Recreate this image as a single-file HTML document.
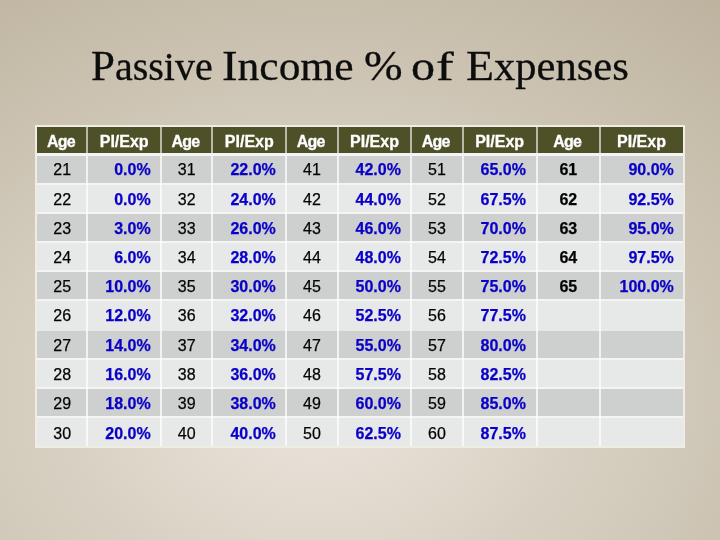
<!DOCTYPE html>
<html><head><meta charset="utf-8"><title>Passive Income % of Expenses</title>
<style>
*{margin:0;padding:0;box-sizing:border-box}
html,body{width:720px;height:540px;overflow:hidden}
body{position:relative;background:radial-gradient(ellipse 654px 510px at 317px 396px, rgb(237,229,226) 0%, rgb(232,225,217) 7.8%, rgb(228,221,211) 15.7%, rgb(226,219,208) 19.6%, rgb(223,216,204) 25.5%, rgb(220,213,200) 31.4%, rgb(216,209,195) 39.2%, rgb(212,204,189) 49%, rgb(207,199,183) 58.8%, rgb(203,194,177) 68.6%, rgb(198,189,171) 78.4%, rgb(194,184,165) 88.2%, rgb(188,178,158) 100%);font-family:"Liberation Sans",Arial,sans-serif}
h1{position:absolute;left:0;top:0;width:720px;height:120px;font-family:"Liberation Serif","Times New Roman",serif;font-weight:normal;font-size:40px;line-height:60px;color:#0d0d0d;white-space:nowrap;-webkit-text-stroke:.3px #0d0d0d}
h1 span{position:absolute;top:0;transform-origin:0 0}
h1 b{font-weight:normal;font-size:43px}
#t{position:absolute;left:35px;top:125px;width:650px;height:323px;background:#f3f4f3}
#bd{position:absolute;left:0;top:0;width:650px;height:323px;border:2px solid #eeece3}
.r{position:absolute;left:2px;width:646px}
.h{background:#4e5028;color:#fff;font-weight:bold}
.o{background:#cdd0cf}
.e{background:#e7e8e8}
.c{position:absolute;top:0;height:100%;display:flex;align-items:center;white-space:nowrap}
.h .c{font-size:16px;padding-top:4px}
.o .c,.e .c{font-size:16px;padding-top:1px}
.cc{justify-content:center}
.cr{justify-content:flex-end}
.b{color:#0a00c8;font-weight:bold;-webkit-text-stroke:.25px #0a00c8}
.k{font-weight:bold}
.cc{-webkit-text-stroke:.25px #111}
.h .cc{-webkit-text-stroke:.3px #fff}
.v{position:absolute;top:2px;width:2px;height:26px;background:rgba(255,255,255,.6)}
.w{position:absolute;top:31px;width:2px;height:290px;background:rgba(255,255,255,.7)}
</style></head>
<body>
<h1><span style="left:90.80px;top:36px;transform:scaleX(1.0008)"><b>P</b>assive</span><span style="left:221.73px;top:36px;transform:scaleX(1.0873)"><b>I</b>ncome</span><span style="left:363.94px;top:36px;transform:scaleX(1.0781)"><b>%</b></span><span style="left:410.80px;top:37px;transform:scaleX(1.2000)">o</span><span style="left:435.57px;top:37px;transform:scaleX(1.3250)">f</span><span style="left:465.94px;top:36px;transform:scaleX(1.0640)"><b>E</b>xpenses</span></h1>
<div id="t">
<div class="r h" style="top:2px;height:26px"><div class="c cc" style="left:0.0px;width:50.4px;letter-spacing:-.8px;padding-right:2.5px">Age</div><div class="c cc" style="left:50.4px;width:73.6px">PI/Exp</div><div class="c cc" style="left:124.0px;width:51.4px;letter-spacing:-.8px;padding-right:2.5px">Age</div><div class="c cc" style="left:175.4px;width:73.8px">PI/Exp</div><div class="c cc" style="left:249.2px;width:51.4px;letter-spacing:-.8px;padding-right:2.5px">Age</div><div class="c cc" style="left:300.6px;width:73.8px">PI/Exp</div><div class="c cc" style="left:374.4px;width:51.2px;letter-spacing:-.8px;padding-right:2.5px">Age</div><div class="c cc" style="left:425.6px;width:74.1px">PI/Exp</div><div class="c cc" style="left:499.7px;width:63.3px;letter-spacing:-.8px;padding-right:2.5px">Age</div><div class="c cc" style="left:563.0px;width:83.0px">PI/Exp</div></div>
<div class="r o" style="top:31px;height:27px"><div class="c cc" style="left:0.0px;width:50.4px;padding-top:1px">21</div><div class="c cr b" style="left:50.4px;width:73.6px;padding-right:10.3px;padding-top:1px">0.0%</div><div class="c cc" style="left:124.0px;width:51.4px;padding-top:1px">31</div><div class="c cr b" style="left:175.4px;width:73.8px;padding-right:10.4px;padding-top:1px">22.0%</div><div class="c cc" style="left:249.2px;width:51.4px;padding-top:1px">41</div><div class="c cr b" style="left:300.6px;width:73.8px;padding-right:10.5px;padding-top:1px">42.0%</div><div class="c cc" style="left:374.4px;width:51.2px;padding-top:1px">51</div><div class="c cr b" style="left:425.6px;width:74.1px;padding-right:10.8px;padding-top:1px">65.0%</div><div class="c cc k" style="left:499.7px;width:63.3px;padding-top:1px">61</div><div class="c cr b" style="left:563.0px;width:83.0px;padding-right:9.2px;padding-top:1px">90.0%</div></div>
<div class="r e" style="top:60px;height:27px"><div class="c cc" style="left:0.0px;width:50.4px;padding-top:3px">22</div><div class="c cr b" style="left:50.4px;width:73.6px;padding-right:10.3px;padding-top:3px">0.0%</div><div class="c cc" style="left:124.0px;width:51.4px;padding-top:3px">32</div><div class="c cr b" style="left:175.4px;width:73.8px;padding-right:10.4px;padding-top:3px">24.0%</div><div class="c cc" style="left:249.2px;width:51.4px;padding-top:3px">42</div><div class="c cr b" style="left:300.6px;width:73.8px;padding-right:10.5px;padding-top:3px">44.0%</div><div class="c cc" style="left:374.4px;width:51.2px;padding-top:3px">52</div><div class="c cr b" style="left:425.6px;width:74.1px;padding-right:10.8px;padding-top:3px">67.5%</div><div class="c cc k" style="left:499.7px;width:63.3px;padding-top:3px">62</div><div class="c cr b" style="left:563.0px;width:83.0px;padding-right:9.2px;padding-top:3px">92.5%</div></div>
<div class="r o" style="top:89px;height:27px"><div class="c cc" style="left:0.0px;width:50.4px;padding-top:3px">23</div><div class="c cr b" style="left:50.4px;width:73.6px;padding-right:10.3px;padding-top:3px">3.0%</div><div class="c cc" style="left:124.0px;width:51.4px;padding-top:3px">33</div><div class="c cr b" style="left:175.4px;width:73.8px;padding-right:10.4px;padding-top:3px">26.0%</div><div class="c cc" style="left:249.2px;width:51.4px;padding-top:3px">43</div><div class="c cr b" style="left:300.6px;width:73.8px;padding-right:10.5px;padding-top:3px">46.0%</div><div class="c cc" style="left:374.4px;width:51.2px;padding-top:3px">53</div><div class="c cr b" style="left:425.6px;width:74.1px;padding-right:10.8px;padding-top:3px">70.0%</div><div class="c cc k" style="left:499.7px;width:63.3px;padding-top:3px">63</div><div class="c cr b" style="left:563.0px;width:83.0px;padding-right:9.2px;padding-top:3px">95.0%</div></div>
<div class="r e" style="top:118px;height:27px"><div class="c cc" style="left:0.0px;width:50.4px;padding-top:3px">24</div><div class="c cr b" style="left:50.4px;width:73.6px;padding-right:10.3px;padding-top:3px">6.0%</div><div class="c cc" style="left:124.0px;width:51.4px;padding-top:3px">34</div><div class="c cr b" style="left:175.4px;width:73.8px;padding-right:10.4px;padding-top:3px">28.0%</div><div class="c cc" style="left:249.2px;width:51.4px;padding-top:3px">44</div><div class="c cr b" style="left:300.6px;width:73.8px;padding-right:10.5px;padding-top:3px">48.0%</div><div class="c cc" style="left:374.4px;width:51.2px;padding-top:3px">54</div><div class="c cr b" style="left:425.6px;width:74.1px;padding-right:10.8px;padding-top:3px">72.5%</div><div class="c cc k" style="left:499.7px;width:63.3px;padding-top:3px">64</div><div class="c cr b" style="left:563.0px;width:83.0px;padding-right:9.2px;padding-top:3px">97.5%</div></div>
<div class="r o" style="top:147px;height:27px"><div class="c cc" style="left:0.0px;width:50.4px;padding-top:3px">25</div><div class="c cr b" style="left:50.4px;width:73.6px;padding-right:10.3px;padding-top:3px">10.0%</div><div class="c cc" style="left:124.0px;width:51.4px;padding-top:3px">35</div><div class="c cr b" style="left:175.4px;width:73.8px;padding-right:10.4px;padding-top:3px">30.0%</div><div class="c cc" style="left:249.2px;width:51.4px;padding-top:3px">45</div><div class="c cr b" style="left:300.6px;width:73.8px;padding-right:10.5px;padding-top:3px">50.0%</div><div class="c cc" style="left:374.4px;width:51.2px;padding-top:3px">55</div><div class="c cr b" style="left:425.6px;width:74.1px;padding-right:10.8px;padding-top:3px">75.0%</div><div class="c cc k" style="left:499.7px;width:63.3px;padding-top:3px">65</div><div class="c cr b" style="left:563.0px;width:83.0px;padding-right:9.2px;padding-top:3px">100.0%</div></div>
<div class="r e" style="top:176px;height:30px"><div class="c cc" style="left:0.0px;width:50.4px;padding-top:0px">26</div><div class="c cr b" style="left:50.4px;width:73.6px;padding-right:10.3px;padding-top:0px">12.0%</div><div class="c cc" style="left:124.0px;width:51.4px;padding-top:0px">36</div><div class="c cr b" style="left:175.4px;width:73.8px;padding-right:10.4px;padding-top:0px">32.0%</div><div class="c cc" style="left:249.2px;width:51.4px;padding-top:0px">46</div><div class="c cr b" style="left:300.6px;width:73.8px;padding-right:10.5px;padding-top:0px">52.5%</div><div class="c cc" style="left:374.4px;width:51.2px;padding-top:0px">56</div><div class="c cr b" style="left:425.6px;width:74.1px;padding-right:10.8px;padding-top:0px">77.5%</div></div>
<div class="r o" style="top:206px;height:27px"><div class="c cc" style="left:0.0px;width:50.4px;padding-top:3px">27</div><div class="c cr b" style="left:50.4px;width:73.6px;padding-right:10.3px;padding-top:3px">14.0%</div><div class="c cc" style="left:124.0px;width:51.4px;padding-top:3px">37</div><div class="c cr b" style="left:175.4px;width:73.8px;padding-right:10.4px;padding-top:3px">34.0%</div><div class="c cc" style="left:249.2px;width:51.4px;padding-top:3px">47</div><div class="c cr b" style="left:300.6px;width:73.8px;padding-right:10.5px;padding-top:3px">55.0%</div><div class="c cc" style="left:374.4px;width:51.2px;padding-top:3px">57</div><div class="c cr b" style="left:425.6px;width:74.1px;padding-right:10.8px;padding-top:3px">80.0%</div></div>
<div class="r e" style="top:235px;height:27px"><div class="c cc" style="left:0.0px;width:50.4px;padding-top:3px">28</div><div class="c cr b" style="left:50.4px;width:73.6px;padding-right:10.3px;padding-top:3px">16.0%</div><div class="c cc" style="left:124.0px;width:51.4px;padding-top:3px">38</div><div class="c cr b" style="left:175.4px;width:73.8px;padding-right:10.4px;padding-top:3px">36.0%</div><div class="c cc" style="left:249.2px;width:51.4px;padding-top:3px">48</div><div class="c cr b" style="left:300.6px;width:73.8px;padding-right:10.5px;padding-top:3px">57.5%</div><div class="c cc" style="left:374.4px;width:51.2px;padding-top:3px">58</div><div class="c cr b" style="left:425.6px;width:74.1px;padding-right:10.8px;padding-top:3px">82.5%</div></div>
<div class="r o" style="top:264px;height:27px"><div class="c cc" style="left:0.0px;width:50.4px;padding-top:3px">29</div><div class="c cr b" style="left:50.4px;width:73.6px;padding-right:10.3px;padding-top:3px">18.0%</div><div class="c cc" style="left:124.0px;width:51.4px;padding-top:3px">39</div><div class="c cr b" style="left:175.4px;width:73.8px;padding-right:10.4px;padding-top:3px">38.0%</div><div class="c cc" style="left:249.2px;width:51.4px;padding-top:3px">49</div><div class="c cr b" style="left:300.6px;width:73.8px;padding-right:10.5px;padding-top:3px">60.0%</div><div class="c cc" style="left:374.4px;width:51.2px;padding-top:3px">59</div><div class="c cr b" style="left:425.6px;width:74.1px;padding-right:10.8px;padding-top:3px">85.0%</div></div>
<div class="r e" style="top:293px;height:28px"><div class="c cc" style="left:0.0px;width:50.4px;padding-top:3px">30</div><div class="c cr b" style="left:50.4px;width:73.6px;padding-right:10.3px;padding-top:3px">20.0%</div><div class="c cc" style="left:124.0px;width:51.4px;padding-top:3px">40</div><div class="c cr b" style="left:175.4px;width:73.8px;padding-right:10.4px;padding-top:3px">40.0%</div><div class="c cc" style="left:249.2px;width:51.4px;padding-top:3px">50</div><div class="c cr b" style="left:300.6px;width:73.8px;padding-right:10.5px;padding-top:3px">62.5%</div><div class="c cc" style="left:374.4px;width:51.2px;padding-top:3px">60</div><div class="c cr b" style="left:425.6px;width:74.1px;padding-right:10.8px;padding-top:3px">87.5%</div></div>
<div class="v" style="left:51.4px"></div><div class="w" style="left:51.4px"></div>
<div class="v" style="left:125.0px"></div><div class="w" style="left:125.0px"></div>
<div class="v" style="left:176.4px"></div><div class="w" style="left:176.4px"></div>
<div class="v" style="left:250.2px"></div><div class="w" style="left:250.2px"></div>
<div class="v" style="left:301.6px"></div><div class="w" style="left:301.6px"></div>
<div class="v" style="left:375.4px"></div><div class="w" style="left:375.4px"></div>
<div class="v" style="left:426.6px"></div><div class="w" style="left:426.6px"></div>
<div class="v" style="left:500.7px"></div><div class="w" style="left:500.7px"></div>
<div class="v" style="left:564.0px"></div><div class="w" style="left:564.0px"></div>
<div id="bd"></div>
</div>
</body></html>
